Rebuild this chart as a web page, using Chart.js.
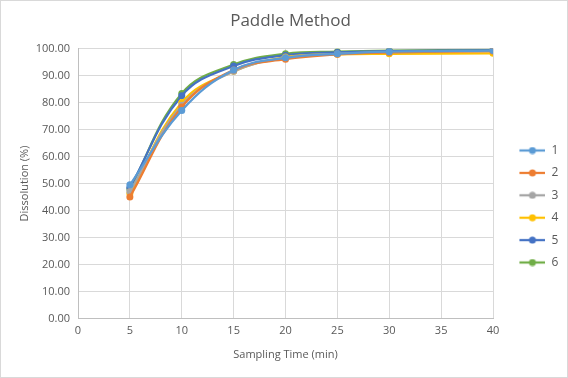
<!DOCTYPE html>
<html>
<head>
<meta charset="utf-8">
<script src="https://cdn.jsdelivr.net/npm/chart.js@4/dist/chart.umd.min.js"></script>
<style>
  html, body { margin: 0; padding: 0; background: #fff; }
  #wrap { position: relative; width: 566px; height: 376px; border: 1px solid #d9d9d9; }
</style>
</head>
<body>
<div id="wrap"><canvas id="myChart" width="566" height="376"></canvas></div>
<script>
// sampling times (min)
var times = [5, 10, 15, 20, 25, 30, 40];

// dissolution (%) per vessel
var vessel1 = [49.5, 77.0, 92.0, 96.5, 98.0, 98.8, 99.2];
var vessel2 = [45.0, 78.3, 92.0, 96.0, 97.8, 98.5, 99.0];
var vessel3 = [47.0, 79.0, 91.5, 96.5, 98.0, 98.5, 99.0];
var vessel4 = [46.3, 80.0, 91.5, 96.8, 97.8, 98.0, 98.2];
var vessel5 = [48.5, 82.5, 93.5, 97.5, 98.5, 99.0, 99.3];
var vessel6 = [48.0, 83.3, 94.0, 98.0, 98.8, 99.2, 99.5];

var seriesNames = ['1', '2', '3', '4', '5', '6'];
var seriesData = [vessel1, vessel2, vessel3, vessel4, vessel5, vessel6];
var colors = ['#5B9BD5', '#ED7D31', '#A5A5A5', '#FFC000', '#4472C4', '#70AD47'];

var font = "'Open Sans', 'Noto Sans', sans-serif";

// small line+dot marker for legend entries (16px blank on the left)
function legendMarker(color) {
    var c = document.createElement('canvas');
    c.width = 42;
    c.height = 8;
    var g = c.getContext('2d');
    g.strokeStyle = color;
    g.lineWidth = 2.25;
    g.beginPath();
    g.moveTo(16, 4);
    g.lineTo(42, 4);
    g.stroke();
    g.fillStyle = color;
    g.beginPath();
    g.arc(29, 4, 3.5, 0, Math.PI * 2);
    g.fill();
    return c;
}

var datasets = seriesData.map(function(vals, i) {
    return {
        label: seriesNames[i],
        data: times.map(function(t, j) { return { x: t, y: vals[j] }; }),
        borderColor: colors[i],
        backgroundColor: colors[i],
        borderWidth: 2.25,
        pointRadius: 3.5,
        pointHoverRadius: 3.5,
        pointBorderWidth: 0,
        tension: 0.4,
        fill: false
    };
});

var legendWidth = {
    id: 'legendWidth',
    beforeInit: function(chart) {
        var fit = chart.legend.fit;
        chart.legend.fit = function() {
            fit.call(this);
            this.width = 74;
        };
    }
};

var ctx = document.getElementById('myChart').getContext('2d');
var chart = new Chart(ctx, {
    type: 'line',
    data: { datasets: datasets },
    plugins: [legendWidth],
    options: {
        responsive: false,
        animation: false,
        layout: { padding: { left: 13, right: 0, top: 6, bottom: 12 } },
        plugins: {
            title: {
                display: true,
                text: 'Paddle Method',
                color: '#595959',
                font: { family: font, size: 17, weight: 'normal' },
                padding: { top: 4, bottom: 17 }
            },
            legend: {
                position: 'right',
                align: 'center',
                title: {
                    display: true,
                    text: ' ',
                    font: { family: font, size: 10, lineHeight: 1 },
                    padding: { top: 31, bottom: 0 }
                },
                labels: {
                    usePointStyle: true,
                    pointStyleWidth: 42,
                    padding: 10.4,
                    color: '#595959',
                    font: { family: font, size: 12 },
                    generateLabels: function(chart) {
                        return chart.data.datasets.map(function(ds, i) {
                            return {
                                text: ds.label,
                                pointStyle: legendMarker(ds.borderColor),
                                fillStyle: ds.borderColor,
                                strokeStyle: ds.borderColor,
                                lineWidth: 0,
                                fontColor: '#595959',
                                datasetIndex: i,
                                hidden: false
                            };
                        });
                    }
                }
            },
            tooltip: { enabled: false }
        },
        scales: {
            x: {
                type: 'linear',
                min: 0,
                max: 40,
                ticks: { stepSize: 5, color: '#595959', font: { family: font, size: 11 }, padding: 6 },
                grid: { color: '#d9d9d9', drawTicks: false },
                border: { color: '#bfbfbf' },
                title: { display: true, text: 'Sampling Time (min)', color: '#595959', font: { family: font, size: 11 }, padding: { top: 4 } }
            },
            y: {
                min: 0,
                max: 100,
                ticks: {
                    stepSize: 10,
                    color: '#595959',
                    font: { family: font, size: 11 },
                    padding: 8,
                    callback: function(v) { return v.toFixed(2); }
                },
                grid: { color: '#d9d9d9', drawTicks: false },
                border: { color: '#bfbfbf' },
                title: { display: true, text: 'Dissolution (%)', color: '#595959', font: { family: font, size: 11 }, padding: { bottom: 6 } },
                afterFit: function(scale) { scale.width = 64; }
            }
        }
    }
});
</script>
</body>
</html>
